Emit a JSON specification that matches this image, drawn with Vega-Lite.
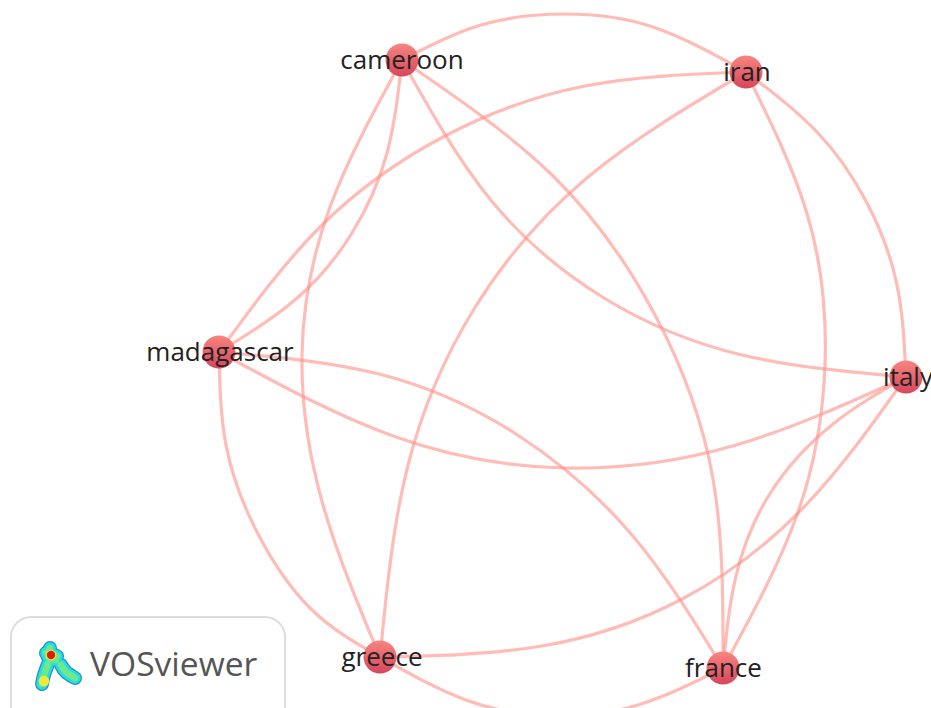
{"$schema":"https://vega.github.io/schema/vega-lite/v6.json","width":931,"height":708,"autosize":{"type":"fit","contains":"padding"},"padding":0,"background":"white","view":{"stroke":null},
"datasets":{
"edges":[
{"e":"C-I","o":0,"x":402,"y":60},{"e":"C-I","o":1,"x":481,"y":25},{"e":"C-I","o":2,"x":565,"y":14},{"e":"C-I","o":3,"x":653,"y":27},{"e":"C-I","o":4,"x":746,"y":72},
{"e":"I-It","o":0,"x":746,"y":72},{"e":"I-It","o":1,"x":817,"y":132},{"e":"I-It","o":2,"x":867,"y":203},{"e":"I-It","o":3,"x":897,"y":285},{"e":"I-It","o":4,"x":906,"y":377},
{"e":"It-F","o":0,"x":906,"y":377},{"e":"It-F","o":1,"x":833,"y":424},{"e":"It-F","o":2,"x":771,"y":492},{"e":"It-F","o":3,"x":736,"y":576},{"e":"It-F","o":4,"x":723,"y":668},
{"e":"C-F","o":0,"x":402,"y":60},{"e":"C-F","o":1,"x":552,"y":175},{"e":"C-F","o":2,"x":655,"y":315},{"e":"C-F","o":3,"x":713,"y":479},{"e":"C-F","o":4,"x":723,"y":668},
{"e":"I-F","o":0,"x":746,"y":72},{"e":"I-F","o":1,"x":808,"y":217},{"e":"I-F","o":2,"x":825,"y":365},{"e":"I-F","o":3,"x":797,"y":515},{"e":"I-F","o":4,"x":723,"y":668},
{"e":"M-F","o":0,"x":219,"y":352},{"e":"M-F","o":1,"x":379,"y":374},{"e":"M-F","o":2,"x":516,"y":434},{"e":"M-F","o":3,"x":632,"y":535},{"e":"M-F","o":4,"x":723,"y":668},
{"e":"C-M","o":0,"x":402,"y":60},{"e":"C-M","o":1,"x":387,"y":153},{"e":"C-M","o":2,"x":352,"y":233},{"e":"C-M","o":3,"x":296,"y":299},{"e":"C-M","o":4,"x":219,"y":352},
{"e":"I-M","o":0,"x":746,"y":72},{"e":"I-M","o":1,"x":585,"y":86},{"e":"I-M","o":2,"x":443,"y":137},{"e":"I-M","o":3,"x":321,"y":226},{"e":"I-M","o":4,"x":219,"y":352},
{"e":"C-G","o":0,"x":402,"y":60},{"e":"C-G","o":1,"x":330,"y":207},{"e":"C-G","o":2,"x":302,"y":355},{"e":"C-G","o":3,"x":323,"y":505},{"e":"C-G","o":4,"x":380,"y":657},
{"e":"C-It","o":0,"x":402,"y":60},{"e":"C-It","o":1,"x":490,"y":199},{"e":"C-It","o":2,"x":604,"y":298},{"e":"C-It","o":3,"x":742,"y":355},{"e":"C-It","o":4,"x":906,"y":377},
{"e":"I-G","o":0,"x":746,"y":72},{"e":"I-G","o":1,"x":588,"y":177},{"e":"I-G","o":2,"x":474,"y":309},{"e":"I-G","o":3,"x":407,"y":469},{"e":"I-G","o":4,"x":380,"y":657},
{"e":"M-It","o":0,"x":219,"y":352},{"e":"M-It","o":1,"x":393,"y":436},{"e":"M-It","o":2,"x":565,"y":468},{"e":"M-It","o":3,"x":736,"y":445},{"e":"M-It","o":4,"x":906,"y":377},
{"e":"M-G","o":0,"x":219,"y":352},{"e":"M-G","o":1,"x":226,"y":445},{"e":"M-G","o":2,"x":257,"y":532},{"e":"M-G","o":3,"x":311,"y":609},{"e":"M-G","o":4,"x":380,"y":657},
{"e":"G-F","o":0,"x":380,"y":657},{"e":"G-F","o":1,"x":466,"y":700},{"e":"G-F","o":2,"x":552,"y":716},{"e":"G-F","o":3,"x":638,"y":705},{"e":"G-F","o":4,"x":723,"y":668},
{"e":"G-It","o":0,"x":380,"y":657},{"e":"G-It","o":1,"x":542,"y":646},{"e":"G-It","o":2,"x":684,"y":598},{"e":"G-It","o":3,"x":805,"y":506},{"e":"G-It","o":4,"x":906,"y":377}
],
"nodes":[{"label":"cameroon","x":402,"y":60,"lx":402},{"label":"iran","x":746,"y":72,"lx":747},{"label":"italy","x":906,"y":377,"lx":908},{"label":"france","x":723,"y":668,"lx":723.5},{"label":"greece","x":380,"y":657,"lx":382},{"label":"madagascar","x":219,"y":352,"lx":220}],
"box":[{"x":11,"y":617,"x2":285,"y2":730}],
"logoText":[{"t":"VOSviewer","x":90,"y":676}],
"blobs":[
{"s":"a","o":0,"x":50,"y":648},{"s":"a","o":1,"x":48,"y":657},{"s":"a","o":2,"x":56,"y":660},
{"s":"d","o":0,"x":46,"y":653},{"s":"d","o":1,"x":51,"y":654},{"s":"d","o":2,"x":57,"y":656},
{"s":"b","o":0,"x":48,"y":664},{"s":"b","o":1,"x":44,"y":675},{"s":"b","o":2,"x":42,"y":684},
{"s":"c","o":0,"x":61,"y":665},{"s":"c","o":1,"x":66,"y":672},{"s":"c","o":2,"x":75,"y":678}
],
"hot":[{"x":51,"y":655,"k":"r"},{"x":44,"y":681,"k":"y"}]
},
"encoding":{
"x":{"field":"x","type":"quantitative","axis":null,"scale":{"domain":[0,931],"nice":false,"zero":false}},
"y":{"field":"y","type":"quantitative","axis":null,"scale":{"domain":[708,0],"nice":false,"zero":false}}
},
"layer":[
{"data":{"name":"edges"},"mark":{"type":"line","interpolate":"natural","stroke":"#ff8f85","strokeWidth":3.2,"opacity":0.6,"clip":true},"encoding":{"detail":{"field":"e"},"order":{"field":"o","type":"quantitative"}}},
{"data":{"name":"nodes"},"mark":{"type":"point","filled":true,"shape":"circle","size":1089,"opacity":1,"fill":{"gradient":"linear","x1":0,"y1":0,"x2":0,"y2":1,"stops":[{"offset":0,"color":"#f7857f"},{"offset":1,"color":"#d6465c"}]}}},
{"data":{"name":"nodes"},"mark":{"type":"text","font":"Open Sans","fontSize":26,"fill":"#222222","align":"center","baseline":"middle","dy":0.5,"clip":true},"encoding":{"x":{"field":"lx","type":"quantitative","axis":null,"scale":{"domain":[0,931],"nice":false,"zero":false}},"text":{"field":"label"}}},
{"data":{"name":"box"},"mark":{"type":"rect","fill":"white","stroke":"#dddddd","strokeWidth":2,"cornerRadius":20,"clip":true},"encoding":{"x2":{"field":"x2"},"y2":{"field":"y2"}}},
{"data":{"name":"logoText"},"mark":{"type":"text","font":"Open Sans","fontSize":33.6,"fill":"#555555","align":"left","baseline":"alphabetic"},"encoding":{"text":{"field":"t"}}},
{"data":{"name":"blobs"},"mark":{"type":"line","interpolate":"natural","stroke":"#2a8fc8","strokeWidth":14,"strokeCap":"round","strokeJoin":"round"},"encoding":{"detail":{"field":"s"},"order":{"field":"o","type":"quantitative"}}},
{"data":{"name":"blobs"},"mark":{"type":"line","interpolate":"natural","stroke":"#1ee0e6","strokeWidth":11.5,"strokeCap":"round","strokeJoin":"round"},"encoding":{"detail":{"field":"s"},"order":{"field":"o","type":"quantitative"}}},
{"data":{"name":"blobs"},"mark":{"type":"line","interpolate":"natural","stroke":"#6fe88a","strokeWidth":6.5,"strokeCap":"round","strokeJoin":"round"},"encoding":{"detail":{"field":"s"},"order":{"field":"o","type":"quantitative"}}},
{"data":{"name":"hot"},"mark":{"type":"point","filled":true,"shape":"circle","size":110,"opacity":1,"fill":"#f2e93a"}},
{"data":{"name":"hot"},"transform":[{"filter":"datum.k==='r'"}],"mark":{"type":"point","filled":true,"shape":"circle","size":70,"opacity":1,"fill":"#d81e10"}}
]}
